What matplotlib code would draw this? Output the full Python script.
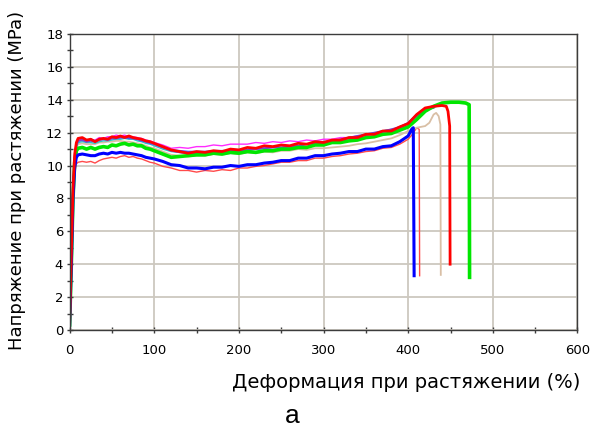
import matplotlib
matplotlib.use("Agg")
import matplotlib.pyplot as plt
from matplotlib.ticker import MultipleLocator

# strain grid shared by the body of every curve (%)
strain_grid = [0, 2, 4, 6, 8, 10, 15, 20, 25, 30, 35, 40, 45, 50, 55, 60, 65, 70, 75, 80, 85, 90, 95, 100,
               110, 120, 130, 140, 150, 160, 170, 180, 190, 200,
               210, 220, 230, 240, 250, 260, 270, 280, 290, 300,
               310, 320, 330, 340, 350, 360, 370, 380, 390, 400]

# stress values (MPa)
red_thick = [0.3, 4.6, 8.6, 10.7, 11.4, 11.65, 11.7, 11.55, 11.6, 11.45, 11.6, 11.65, 11.6, 11.75, 11.7, 11.8, 11.7, 11.8, 11.7, 11.65, 11.6, 11.5, 11.45, 11.35,
             11.15, 10.95, 10.85, 10.75, 10.85, 10.8, 10.9, 10.85, 11.0, 10.95,
             11.1, 11.05, 11.2, 11.15, 11.25, 11.2, 11.35, 11.3, 11.45, 11.4,
             11.55, 11.55, 11.7, 11.7, 11.9, 11.9, 12.1, 12.1, 12.35, 12.55]
red_thick_tail_x = [410, 420, 430, 440, 445, 447, 449, 449.5]
red_thick_tail_y = [13.1, 13.5, 13.6, 13.65, 13.6, 13.3, 12.4, 4.0]

green = [0.3, 4.0, 8.0, 10.2, 10.9, 11.05, 11.1, 11.0, 11.1, 11.0, 11.1, 11.15, 11.1, 11.25, 11.2, 11.3, 11.35, 11.25, 11.3, 11.2, 11.2, 11.05, 11.0, 10.9,
         10.7, 10.5, 10.55, 10.6, 10.65, 10.65, 10.75, 10.7, 10.8, 10.75,
         10.85, 10.8, 10.9, 10.9, 11.0, 11.0, 11.1, 11.1, 11.25, 11.25,
         11.4, 11.4, 11.5, 11.55, 11.7, 11.75, 11.9, 11.95, 12.15, 12.35]
green_tail_x = [410, 420, 430, 440, 450, 460, 468, 472, 472.5]
green_tail_y = [12.8, 13.3, 13.6, 13.8, 13.85, 13.85, 13.8, 13.7, 3.2]

blue_thick = [0.3, 4.0, 8.0, 9.9, 10.5, 10.65, 10.7, 10.65, 10.6, 10.6, 10.7, 10.75, 10.7, 10.8, 10.75, 10.8, 10.75, 10.75, 10.7, 10.65, 10.6, 10.5, 10.45, 10.4,
              10.25, 10.05, 10.0, 9.85, 9.85, 9.8, 9.9, 9.9, 10.0, 9.95,
              10.05, 10.05, 10.15, 10.2, 10.3, 10.3, 10.45, 10.45, 10.6, 10.6,
              10.7, 10.75, 10.85, 10.85, 11.0, 11.0, 11.15, 11.2, 11.45, 11.8]
blue_thick_tail_x = [404, 406, 407]
blue_thick_tail_y = [12.2, 12.3, 3.3]

red_thin = [0.3, 3.8, 7.8, 9.6, 10.1, 10.2, 10.25, 10.2, 10.25, 10.15, 10.3, 10.4, 10.45, 10.5, 10.45, 10.55, 10.6, 10.5, 10.55, 10.45, 10.4, 10.3, 10.2, 10.15,
            9.95, 9.85, 9.7, 9.7, 9.6, 9.7, 9.65, 9.75, 9.7, 9.85,
            9.85, 9.95, 10.0, 10.1, 10.2, 10.2, 10.3, 10.3, 10.45, 10.45,
            10.55, 10.6, 10.7, 10.75, 10.85, 10.9, 11.05, 11.1, 11.3, 11.6]
red_thin_tail_x = [405, 410, 413, 413.5]
red_thin_tail_y = [11.9, 12.3, 12.2, 3.3]

tan = [0.3, 4.2, 8.2, 10.4, 11.1, 11.3, 11.35, 11.3, 11.3, 11.3, 11.4, 11.4, 11.45, 11.45, 11.5, 11.5, 11.45, 11.45, 11.4, 11.35, 11.3, 11.2, 11.1, 11.05,
       10.85, 10.65, 10.6, 10.55, 10.6, 10.6, 10.7, 10.65, 10.75, 10.7,
       10.8, 10.75, 10.85, 10.8, 10.9, 10.9, 11.0, 10.95, 11.05, 11.05,
       11.1, 11.15, 11.2, 11.3, 11.35, 11.45, 11.55, 11.65, 11.85, 12.1]
tan_tail_x = [410, 420, 425, 430, 433, 436, 438, 438.5]
tan_tail_y = [12.3, 12.4, 12.6, 13.1, 13.2, 13.0, 12.5, 3.35]

magenta = [0.3, 4.5, 8.5, 10.6, 11.3, 11.55, 11.6, 11.5, 11.6, 11.55, 11.7, 11.65, 11.75, 11.75, 11.85, 11.8, 11.85, 11.75, 11.75, 11.7, 11.65, 11.55, 11.5, 11.4,
           11.25, 11.05, 11.1, 11.05, 11.15, 11.15, 11.25, 11.2, 11.3, 11.3,
           11.3, 11.4, 11.35, 11.45, 11.4, 11.5, 11.45, 11.55, 11.5, 11.6,
           11.6, 11.7, 11.7, 11.8, 11.85, 11.95, 12.05, 12.15, 12.3, 12.6]
magenta_tail_x = [410]
magenta_tail_y = [13.0]

purple = [0.3, 4.4, 8.4, 10.5, 11.2, 11.5, 11.55, 11.45, 11.5, 11.45, 11.55, 11.6, 11.55, 11.65, 11.65, 11.7, 11.75, 11.7, 11.65, 11.6, 11.55, 11.45, 11.4, 11.3,
          11.1, 10.9, 10.8, 10.75, 10.75, 10.8, 10.8, 10.85, 10.85, 10.9,
          10.95, 11.0, 11.05, 11.1, 11.1, 11.15, 11.2, 11.3, 11.35, 11.45,
          11.5, 11.6, 11.7, 11.8, 11.9, 12.0, 12.1, 12.2, 12.35, 12.6]
purple_tail_x = [410, 420, 430]
purple_tail_y = [13.1, 13.4, 13.5]

cyan = [0.3, 4.3, 8.3, 10.4, 11.1, 11.4, 11.45, 11.4, 11.4, 11.35, 11.45, 11.5, 11.5, 11.55, 11.6, 11.6, 11.65, 11.6, 11.6, 11.5, 11.45, 11.35, 11.3, 11.2,
        11.0, 10.85, 10.8, 10.75, 10.7, 10.7, 10.7, 10.75, 10.75, 10.75,
        10.8, 10.85, 10.9, 10.9, 10.95, 11.0, 11.1, 11.15, 11.25, 11.35,
        11.45, 11.55, 11.65, 11.75, 11.9, 11.95, 12.1, 12.2, 12.3, 12.4]
cyan_tail_x = []
cyan_tail_y = []

blue_thin = [0.3, 4.5, 8.5, 10.6, 11.3, 11.5, 11.55, 11.45, 11.55, 11.5, 11.6, 11.6, 11.65, 11.65, 11.7, 11.7, 11.7, 11.65, 11.65, 11.6, 11.5, 11.45, 11.35, 11.3,
             11.1, 10.95, 10.9, 10.85, 10.85, 10.85, 10.9, 10.9, 10.9, 10.9,
             10.95, 11.0, 11.05, 11.1, 11.1, 11.15, 11.2, 11.3, 11.35, 11.4,
             11.5, 11.55, 11.65, 11.75, 11.85, 11.95, 12.05, 12.15, 12.3, 12.55]
blue_thin_tail_x = [410, 420]
blue_thin_tail_y = [13.0, 13.35]

curves = [
    (red_thin, red_thin_tail_x, red_thin_tail_y, '#ff4a4a', 1.0),
    (tan, tan_tail_x, tan_tail_y, '#d9bfa5', 1.3),
    (cyan, cyan_tail_x, cyan_tail_y, '#2ec4c4', 1.0),
    (magenta, magenta_tail_x, magenta_tail_y, '#ff2cff', 1.0),
    (blue_thin, blue_thin_tail_x, blue_thin_tail_y, '#3b5bff', 1.2),
    (purple, purple_tail_x, purple_tail_y, '#7a3fd0', 1.3),
    (green, green_tail_x, green_tail_y, '#00e600', 2.6),
    (blue_thick, blue_thick_tail_x, blue_thick_tail_y, '#0000ff', 2.2),
    (red_thick, red_thick_tail_x, red_thick_tail_y, '#ff0000', 2.0),
]

fig = plt.figure(figsize=(5.92, 4.30), dpi=100)
ax = fig.add_axes([0.1176, 0.2326, 0.8579, 0.6884])

for stress, tail_x, tail_y, color, lw in curves:
    ax.plot(strain_grid + tail_x, stress + tail_y, color=color, lw=lw,
            solid_joinstyle='round')

ax.set_xlim(0, 600)
ax.set_ylim(0, 18)
ax.xaxis.set_major_locator(MultipleLocator(100))
ax.xaxis.set_minor_locator(MultipleLocator(50))
ax.yaxis.set_major_locator(MultipleLocator(2))
ax.yaxis.set_minor_locator(MultipleLocator(1))
ax.grid(True, which='major', color='#cdc8bf', lw=1.3)
ax.set_axisbelow(True)

for s in ax.spines.values():
    s.set_color('#3c3c3c')
    s.set_linewidth(1.0)

ax.tick_params(which='both', direction='inout', color='#3c3c3c', width=1,
               labelsize=9.5, top=False, right=False)
ax.tick_params(which='major', length=4.5)
ax.tick_params(which='minor', length=4.5)
ax.tick_params(axis='x', pad=8)
ax.tick_params(axis='y', pad=2.5)

ax.text(1.005, -0.179, 'Деформация при растяжении (%)', transform=ax.transAxes,
        ha='right', va='center', fontsize=14)
ax.text(-0.1035, 0.505, 'Напряжение при растяжении (MPa)', transform=ax.transAxes,
        ha='center', va='center', rotation=90, fontsize=13)

fig.text(292 / 592, 1 - 416 / 430, 'а', ha='center', va='center',
         fontsize=19, family='Liberation Sans')

fig.savefig('out.png', dpi=100)
